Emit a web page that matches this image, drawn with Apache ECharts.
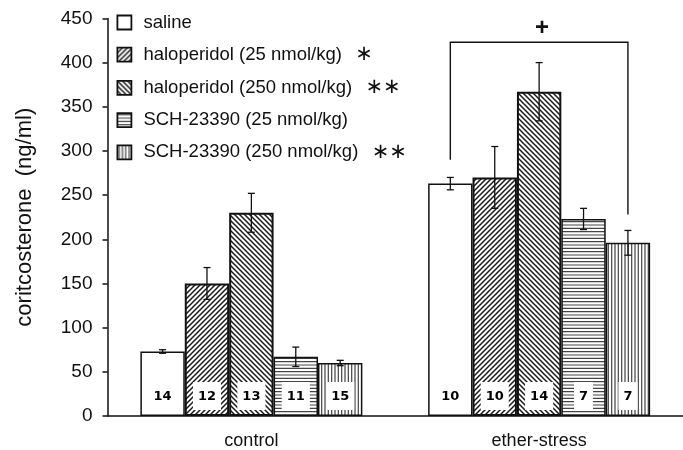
<!DOCTYPE html>
<html>
<head>
<meta charset="utf-8">
<script src="https://cdn.jsdelivr.net/npm/echarts@6/dist/echarts.min.js"></script>
<style>
  html, body { margin: 0; padding: 0; background: #fff; }
  #main { width: 683px; height: 450px; }
</style>
</head>
<body>
<div id="main"></div>
<script>
// groups on the x axis
const groups = ['control', 'ether-stress'];
// treatments (one bar series each)
const treatments = [
  'saline',
  'haloperidol (25 nmol/kg)',
  'haloperidol (250 nmol/kg)',
  'SCH-23390 (25 nmol/kg)',
  'SCH-23390 (250 nmol/kg)'
];
const stars = ['', '*', '**', '', '**'];
// mean corticosterone per treatment: [control, ether-stress]
const meanSaline   = [73, 263];
const meanHalo25   = [150, 270];
const meanHalo250  = [230, 367];
const meanSch25    = [67, 223];
const meanSch250   = [60, 196];
// SEM
const semSaline    = [2, 7];
const semHalo25    = [18, 35];
const semHalo250   = [22, 33];
const semSch25     = [11, 12];
const semSch250    = [3, 14];
// n per bar
const nSaline      = [14, 10];
const nHalo25      = [12, 10];
const nHalo250     = [13, 14];
const nSch25       = [11, 7];
const nSch250      = [15, 7];
// significance bracket over ether-stress (values on y axis)
const bracketTop = 423;
const bracketLeftEnd = 290;
const bracketRightEnd = 228;
const plusY = 439;
const yTicks = [0, 450, 50];

const means = [meanSaline, meanHalo25, meanHalo250, meanSch25, meanSch250];
const sems = [semSaline, semHalo25, semHalo250, semSch25, semSch250];
const counts = [nSaline, nHalo25, nHalo250, nSch25, nSch250];

const BAR_FRAC = 0.1543;
const FONT = '"Liberation Sans", Arial, sans-serif';

function makePattern(kind) {
  const c = document.createElement('canvas');
  let s = 5;
  if (kind === 'h' || kind === 'v') s = 10;
  c.width = s; c.height = s;
  const g = c.getContext('2d');
  g.fillStyle = '#fff';
  g.fillRect(0, 0, s, s);
  if (kind === 'none') return c;
  g.strokeStyle = '#1a1a1a';
  g.lineWidth = 1.5;
  g.beginPath();
  if (kind === 'fwd') {
    for (let k = -1; k <= 1; k++) {
      g.moveTo(-1, s + 1 + k * s); g.lineTo(s + 1, -1 + k * s);
    }
  } else if (kind === 'back') {
    for (let k = -1; k <= 1; k++) {
      g.moveTo(-1, -1 + k * s); g.lineTo(s + 1, s + 1 + k * s);
    }
  } else if (kind === 'h') {
    g.strokeStyle = '#444';
    g.lineWidth = 1.2;
    [1.7, 5, 8.3].forEach(y => { g.moveTo(0, y); g.lineTo(s, y); });
  } else if (kind === 'v') {
    g.strokeStyle = '#444';
    g.lineWidth = 1.2;
    [1.7, 5, 8.3].forEach(x => { g.moveTo(x, 0); g.lineTo(x, s); });
  }
  g.stroke();
  return c;
}

const patternKinds = ['none', 'fwd', 'back', 'h', 'v'];
const fills = patternKinds.map(k => k === 'none' ? '#fff' : { image: makePattern(k), repeat: 'repeat' });

const barSeries = treatments.map((name, i) => ({
  name: name,
  type: 'bar',
  barWidth: (BAR_FRAC * 100) + '%',
  barGap: '0%',
  data: means[i],
  itemStyle: { color: fills[i], borderColor: '#111', borderWidth: i === 1 || i === 2 ? 2 : 1.5 },
  label: {
    show: true,
    position: 'insideBottom',
    distance: 6,
    formatter: p => String(counts[i][p.dataIndex]),
    backgroundColor: '#fff',
    padding: [8, 5, 7, 5],
    fontFamily: '"DejaVu Sans", sans-serif',
    fontWeight: 'bold',
    fontSize: 13,
    color: '#000'
  },
  emphasis: { disabled: true }
}));

// error bar points: [groupIndex, mean, sem, treatmentIndex]
const errData = [];
treatments.forEach((t, i) => {
  groups.forEach((g, j) => errData.push([j, means[i][j], sems[i][j], i]));
});

const errSeries = {
  type: 'custom',
  name: 'sem',
  data: errData,
  z: 5,
  renderItem: function (params, api) {
    const j = api.value(0), m = api.value(1), e = api.value(2), i = api.value(3);
    const bw = api.size([1, 0])[0] * BAR_FRAC;
    const cx = api.coord([j, m])[0] + (i - 2) * bw;
    const top = api.coord([j, m + e])[1];
    const bot = api.coord([j, m - e])[1];
    const st = { stroke: '#111', lineWidth: 1.3 };
    return {
      type: 'group',
      children: [
        { type: 'line', shape: { x1: cx, y1: top, x2: cx, y2: bot }, style: st },
        { type: 'line', shape: { x1: cx - 3.5, y1: top, x2: cx + 3.5, y2: top }, style: st },
        { type: 'line', shape: { x1: cx - 3.5, y1: bot, x2: cx + 3.5, y2: bot }, style: st }
      ]
    };
  }
};

const bracketSeries = {
  type: 'custom',
  name: 'bracket',
  data: [[1, bracketTop, bracketLeftEnd, bracketRightEnd, plusY]],
  z: 6,
  renderItem: function (params, api) {
    const j = api.value(0);
    const bw = api.size([1, 0])[0] * BAR_FRAC;
    const c0 = api.coord([j, api.value(1)]);
    const xl = c0[0] - 2 * bw, xr = c0[0] + 2 * bw;
    const yt = c0[1];
    const yl = api.coord([j, api.value(2)])[1];
    const yr = api.coord([j, api.value(3)])[1];
    const yp = api.coord([j, api.value(4)])[1];
    return {
      type: 'group',
      children: [
        { type: 'polyline', shape: { points: [[xl, yl], [xl, yt], [xr, yt], [xr, yr]] },
          style: { stroke: '#111', lineWidth: 1.4, fill: null } },
        { type: 'text', x: c0[0] + 3, y: yp,
          style: { text: '+', fontSize: 24, fontWeight: 'bold', fontFamily: FONT, fill: '#111', align: 'center', verticalAlign: 'middle' } }
      ]
    };
  }
};

const option = {
  animation: false,
  grid: { left: 107.5, right: -9, top: 18.4, bottom: 31.7, containLabel: false },
  legend: {
    orient: 'vertical',
    left: 116.5,
    top: 13,
    padding: 0,
    itemWidth: 14,
    itemHeight: 14,
    itemGap: 12.2,
    selectedMode: false,
    icon: 'rect',
    data: treatments.map((t, i) => ({
      name: t,
      itemStyle: { borderColor: '#111', borderWidth: 1.8 }
    })),
    formatter: function (name) {
      const i = treatments.indexOf(name);
      return stars[i] ? '{t|' + name + '}{s|  ' + stars[i].replace(/\*/g, '∗') + '}' : '{t|' + name + '}';
    },
    textStyle: {
      padding: [0, 0, 0, 7],
      lineHeight: 14,
      rich: {
        t: { fontSize: 18.5, fontFamily: FONT, color: '#111', lineHeight: 14 },
        s: { fontSize: 21, fontFamily: '"DejaVu Sans", sans-serif', color: '#111', lineHeight: 14 }
      }
    }
  },
  xAxis: {
    type: 'category',
    data: groups,
    axisLine: { lineStyle: { color: '#111', width: 1.5 } },
    axisTick: { show: false },
    axisLabel: { fontSize: 18, fontFamily: FONT, color: '#111', margin: 16 }
  },
  yAxis: {
    type: 'value',
    min: yTicks[0],
    max: yTicks[1],
    interval: yTicks[2],
    name: 'coritcosterone  (ng/ml)',
    nameLocation: 'middle',
    nameGap: 72,
    nameTextStyle: { fontSize: 22, fontFamily: FONT, color: '#111' },
    axisLine: { show: true, lineStyle: { color: '#111', width: 1.5 } },
    axisTick: { show: true, inside: false, length: 5, lineStyle: { color: '#111', width: 1.5 } },
    axisLabel: { fontSize: 19, fontFamily: FONT, color: '#111', margin: 15 },
    splitLine: { show: false }
  },
  series: barSeries.concat([errSeries, bracketSeries])
};

const chart = echarts.init(document.getElementById('main'));
chart.setOption(option);
</script>
</body>
</html>
